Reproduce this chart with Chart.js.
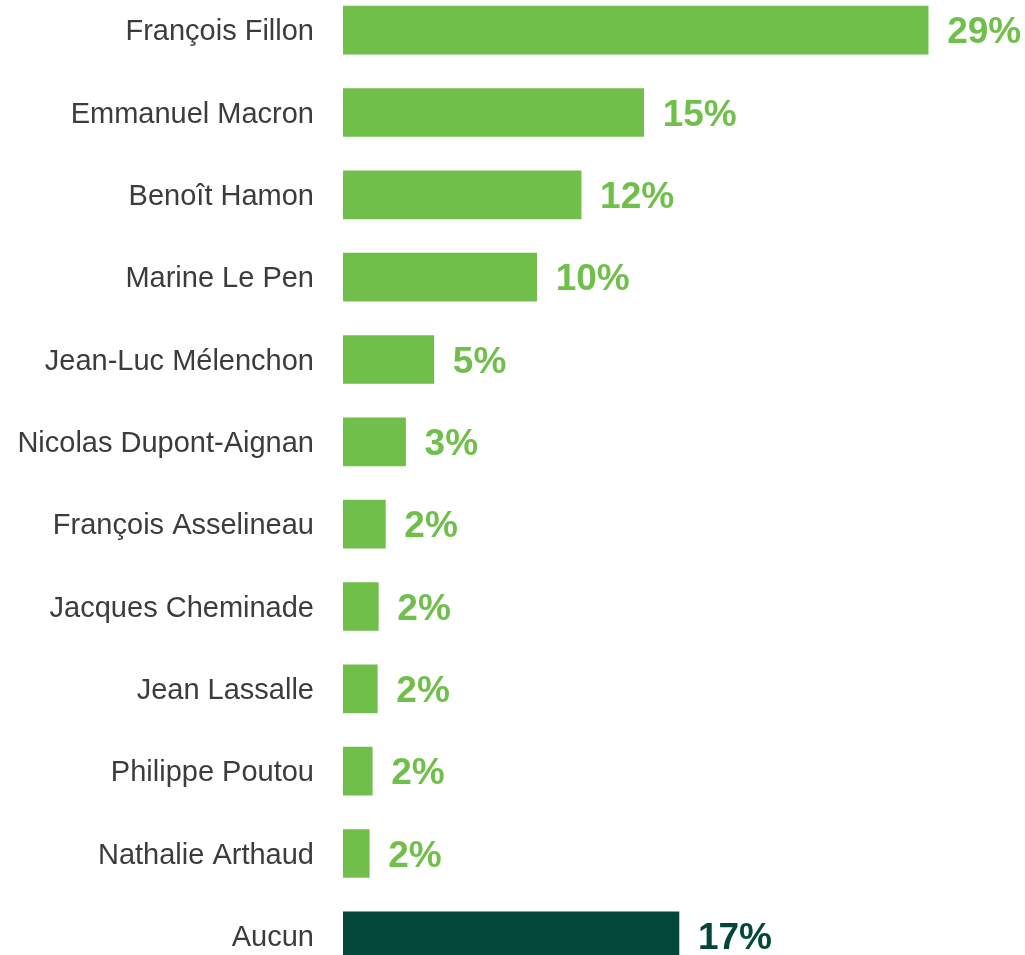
<!DOCTYPE html>
<html>
<head>
<meta charset="utf-8">
<script src="https://cdn.jsdelivr.net/npm/chart.js@4"></script>
<style>
  html, body { margin: 0; padding: 0; background: #fff; overflow: hidden; }
  #wrap { position: absolute; left: 0; top: -11px; width: 1025px; height: 988px; }
</style>
</head>
<body>
<div id="wrap"><canvas id="chart"></canvas></div>
<script>
// candidates, top to bottom
const candidates = [
  'François Fillon', 'Emmanuel Macron', 'Benoît Hamon', 'Marine Le Pen',
  'Jean-Luc Mélenchon', 'Nicolas Dupont-Aignan', 'François Asselineau',
  'Jacques Cheminade', 'Jean Lassalle', 'Philippe Poutou', 'Nathalie Arthaud', 'Aucun'
];
// bar lengths (%)
const shares = [29.0, 14.9, 11.8, 9.6, 4.5, 3.1, 2.1, 1.75, 1.7, 1.45, 1.3, 16.65];
// printed labels
const shareLabels = ['29%', '15%', '12%', '10%', '5%', '3%', '2%', '2%', '2%', '2%', '2%', '17%'];

const green = '#70bf4b';
const darkGreen = '#02473a';
const colors = candidates.map(c => c === 'Aucun' ? darkGreen : green);

const valueLabels = {
  id: 'valueLabels',
  afterDatasetsDraw(chart) {
    const ctx = chart.ctx;
    const meta = chart.getDatasetMeta(0);
    ctx.save();
    ctx.font = 'bold 37px "Liberation Sans", Arial, sans-serif';
    ctx.textAlign = 'left';
    ctx.textBaseline = 'middle';
    meta.data.forEach((bar, i) => {
      ctx.fillStyle = colors[i];
      ctx.fillText(shareLabels[i], bar.x + 19, bar.y + 3);
    });
    ctx.restore();
  }
};

const data = {
  labels: candidates,
  datasets: [{
    data: shares,
    backgroundColor: colors,
    borderWidth: 0,
    barThickness: 48
  }]
};

const config = {
  type: 'bar',
  data: data,
  options: {
    indexAxis: 'y',
    responsive: true,
    maintainAspectRatio: false,
    animation: false,
    layout: { padding: 0 },
    plugins: {
      legend: { display: false },
      tooltip: { enabled: false }
    },
    scales: {
      x: {
        display: false,
        min: 0,
        max: 33.8
      },
      y: {
        afterFit: scale => {
          scale.width = 343;
          scale.paddingTop = 0;
          scale.paddingBottom = 0;
        },
        grid: { display: false, drawTicks: false },
        border: { display: false },
        ticks: {
          padding: 29,
          labelOffset: 2,
          color: '#3c3c3c',
          font: { family: '"Liberation Sans", Arial, sans-serif', size: 29 }
        }
      }
    }
  },
  plugins: [valueLabels]
};

let c = document.getElementById('chart').getContext('2d');
new Chart(c, config);
</script>
</body>
</html>
